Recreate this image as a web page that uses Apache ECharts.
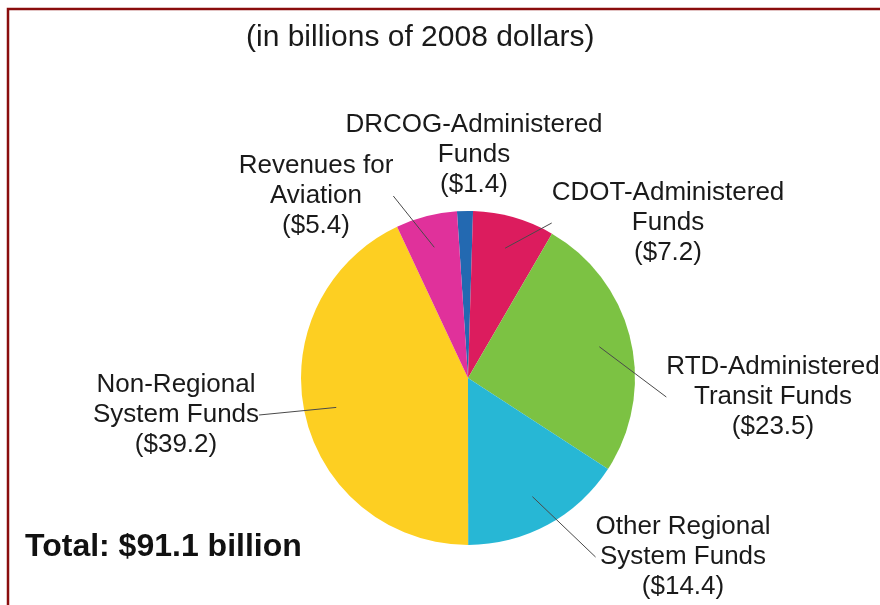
<!DOCTYPE html>
<html>
<head>
<meta charset="utf-8">
<script src="https://cdn.jsdelivr.net/npm/echarts@6/dist/echarts.min.js"></script>
<style>
html,body{margin:0;padding:0;background:#fff;}
#chart{width:880px;height:605px;}
</style>
</head>
<body>
<div id="chart"></div>
<script>
// ---- data ----
const categories = [
  'DRCOG-Administered\nFunds',
  'CDOT-Administered\nFunds',
  'RTD-Administered\nTransit Funds',
  'Other Regional\nSystem Funds',
  'Non-Regional\nSystem Funds',
  'Revenues for\nAviation'
];
const values = [1.4, 7.2, 23.5, 14.4, 39.2, 5.4];
const titleText = '(in billions of 2008 dollars)';
const totalText = 'Total: $91.1 billion';

// ---- styles / layout ----
const colors = ['#2369b1', '#dc1c5e', '#7cc243', '#27b7d5', '#fdcf22', '#e0319b'];
const labelPos = [[474, 155], [668, 223], [773, 397], [683, 557], [176, 415], [316, 196]];
const showLine = [false, true, true, true, true, true];
const FONT = '"Liberation Sans", Arial, Helvetica, sans-serif';

const chart = echarts.init(document.getElementById('chart'));

const pieData = categories.map((c, i) => ({
  name: c,
  value: values[i],
  itemStyle: { color: colors[i] }
}));
const overlayData = categories.map((c, i) => ({
  name: c,
  value: values[i],
  labelLine: { show: showLine[i] }
}));

chart.setOption({
  backgroundColor: '#ffffff',
  animation: false,
  title: [{
    text: titleText,
    left: 241,
    top: 18,
    textStyle: { fontFamily: FONT, fontSize: 30, fontWeight: 'normal', color: '#1a1a1a' }
  }, {
    text: totalText,
    left: 20,
    top: 526,
    textStyle: { fontFamily: FONT, fontSize: 32, fontWeight: 'bold', color: '#111' }
  }],
  graphic: [{
    type: 'polyline',
    shape: { points: [[8, 605], [8, 9], [880, 9]] },
    style: { stroke: '#8a0d0d', lineWidth: 2.5, fill: null },
    z: 100
  }],
  series: [{
    type: 'pie',
    center: [468, 378],
    radius: [0, 167],
    startAngle: 93.8,
    clockwise: true,
    label: { show: false },
    labelLine: { show: false },
    silent: true,
    itemStyle: { borderWidth: 0 },
    data: pieData
  }, {
    type: 'pie',
    center: [468, 378],
    radius: [0, 135],
    startAngle: 93.8,
    clockwise: true,
    silent: true,
    z: 3,
    avoidLabelOverlap: false,
    itemStyle: { color: 'rgba(0,0,0,0)', borderWidth: 0 },
    label: {
      show: true,
      position: 'outside',
      fontFamily: FONT,
      fontSize: 26,
      lineHeight: 30,
      color: '#1a1a1a',
      align: 'center',
      formatter: p => p.name + '\n($' + p.value.toFixed(1) + ')'
    },
    labelLine: {
      show: true,
      length: 10,
      length2: 0,
      lineStyle: { color: '#4a4a4a', width: 1 }
    },
    labelLayout: params => ({
      x: labelPos[params.dataIndex][0],
      y: labelPos[params.dataIndex][1],
      align: 'center',
      verticalAlign: 'middle'
    }),
    data: overlayData
  }]
});
</script>
</body>
</html>
